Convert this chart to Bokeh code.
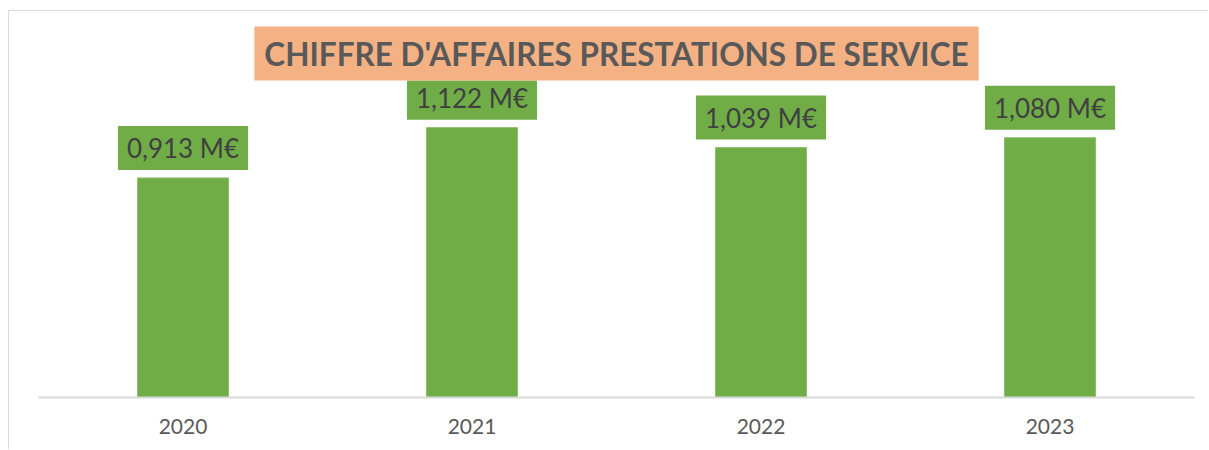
from bokeh.plotting import figure
from bokeh.models import ColumnDataSource, FactorRange, Range1d, Title
from bokeh.core.properties import value
from bokeh.embed import file_html
from bokeh.resources import INLINE

# ---- data ----
years = ["2020", "2021", "2022", "2023"]
ca_values = [0.913, 1.122, 1.039, 1.080]
ca_labels = ["0,913 M€", "1,122 M€", "1,039 M€", "1,080 M€"]
chart_title = "CHIFFRE D'AFFAIRES PRESTATIONS DE SERVICE"

GREEN = "#70AD47"
ORANGE = "#F4B183"

src = ColumnDataSource(dict(year=years, val=ca_values, lab=ca_labels))

p = figure(
    x_range=FactorRange(factors=years, range_padding=0),
    y_range=Range1d(0, 1.318),
    width=1200, height=439,
    output_backend="svg", toolbar_location=None,
    y_axis_location=None,
    min_border_left=29, min_border_right=15,
    min_border_top=69, min_border_bottom=53,
)
p.margin = (10, 0, 0, 8)
p.styles = {"border-top": "1px solid #d9d9d9", "border-left": "1px solid #d9d9d9"}

p.outline_line_color = None
p.xgrid.grid_line_color = None
p.ygrid.grid_line_color = None
p.background_fill_color = "white"
p.border_fill_color = "white"

p.vbar(x="year", top="val", bottom=0, width=0.315, source=src,
       fill_color=GREEN, line_color="#8cbf6c", line_width=1)

p.text(x="year", y="val", text="lab", source=src,
       text_font=value("Lato"), text_font_size="26px", text_color="#404040",
       text_align="center", text_baseline="bottom", y_offset=-8,
       background_fill_color=GREEN, padding=(9, 6))

xa = p.xaxis[0]
xa.axis_line_color = "#d9d9d9"
xa.axis_line_width = 2
xa.major_tick_line_color = None
xa.minor_tick_line_color = None
xa.major_label_text_font = "Lato"
xa.major_label_text_font_size = "21px"
xa.major_label_text_color = "#595959"
xa.major_label_standoff = 15

t = Title(text=chart_title, align="center",
          text_font="Lato", text_font_size="31.5px", text_font_style="bold",
          text_color="#595959", background_fill_color=ORANGE,
          padding=(10, 8), standoff=0, offset=0)
p.add_layout(t, "above")

open("out.html", "w").write(file_html(p, INLINE))
